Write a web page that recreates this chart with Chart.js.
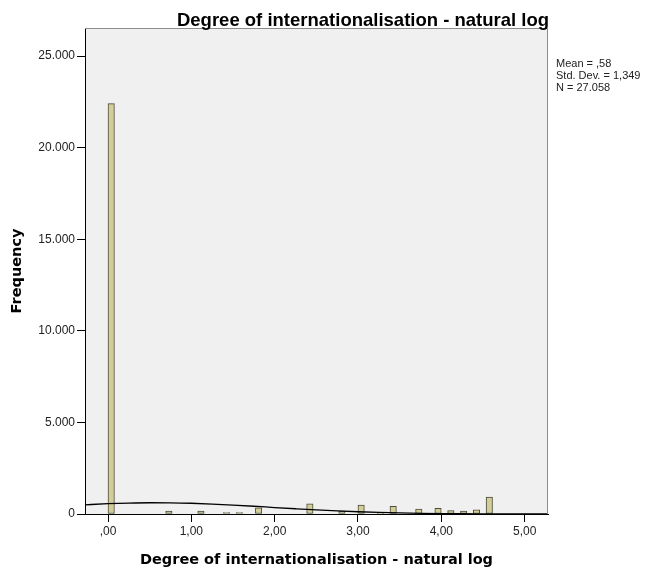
<!DOCTYPE html>
<html><head><meta charset="utf-8">
<script src="https://cdn.jsdelivr.net/npm/chart.js@4.4.0/dist/chart.umd.min.js"></script>
<style>html,body{margin:0;padding:0;background:#fff}#wrap{width:657px;height:575px;position:relative}canvas{display:block}</style>
</head><body><div id="wrap"><canvas id="c" width="657" height="575" style="width:657px;height:575px"></canvas></div>
<script>
const chartTitle = 'Degree of internationalisation - natural log';
const xTitle = 'Degree of internationalisation - natural log';
const yTitle = 'Frequency';
const binWidth = 0.0769;
const binTotal = 60;
const barBins = [0, 9, 14, 18, 20, 23, 31, 36, 39, 42, 44, 48, 51, 53, 55, 57, 59];
const barCounts = [22400, 160, 160, 80, 80, 330, 550, 160, 490, 60, 420, 270, 310, 180, 160, 230, 930];
const curveX = [-0.3, 0, 0.25, 0.5, 0.75, 1, 1.25, 1.5, 1.75, 2, 2.25, 2.5, 2.75, 3, 3.25, 3.5, 3.75, 4, 4.25, 4.5, 4.75, 5, 5.3];
const curveY = [497, 561, 597, 614, 610, 586, 544, 487, 422, 353, 286, 223, 169, 123, 87, 59, 39, 25, 15, 9, 5, 3, 1];
const xTicks = [0, 1, 2, 3, 4, 5];
const xTickLabels = [',00', '1,00', '2,00', '3,00', '4,00', '5,00'];
const yTicks = [0, 5000, 10000, 15000, 20000, 25000];
const yTickLabels = ['0', '5.000', '10.000', '15.000', '20.000', '25.000'];
const statsLines = ['Mean = ,58', 'Std. Dev. = 1,349', 'N = 27.058'];
const xRange = [-0.276, 5.28];
const yRange = [0, 26530];

const barData = [];
for (let k = 0; k < binTotal; k++) {
  const idx = barBins.indexOf(k);
  barData.push({x: (k + 0.5) * binWidth, y: idx >= 0 ? barCounts[idx] : null});
}
const curveData = curveX.map((x, i) => ({x: x, y: curveY[i]}));

const decor = {
  id: 'decor',
  beforeDraw(chart) {
    const {ctx, chartArea: a} = chart;
    ctx.save();
    ctx.fillStyle = '#ffffff';
    ctx.fillRect(0, 0, chart.width, chart.height);
    ctx.fillStyle = '#f0f0f0';
    ctx.fillRect(a.left, a.top, a.right - a.left, a.bottom - a.top);
    ctx.restore();
  },
  afterDraw(chart) {
    const {ctx, chartArea: a} = chart;
    ctx.save();
    ctx.strokeStyle = '#8c8c8c';
    ctx.lineWidth = 1;
    ctx.beginPath();
    ctx.moveTo(a.left, a.top + 0.5);
    ctx.lineTo(a.right - 0.5, a.top + 0.5);
    ctx.lineTo(a.right - 0.5, a.bottom);
    ctx.stroke();
    ctx.fillStyle = '#000';
    ctx.font = 'bold 18.5px "Liberation Sans", Arial, sans-serif';
    ctx.textAlign = 'center';
    ctx.textBaseline = 'alphabetic';
    ctx.fillText(chartTitle, 363, 26);
    ctx.font = '11px "Liberation Sans", Arial, sans-serif';
    ctx.textAlign = 'left';
    ctx.fillStyle = '#222';
    statsLines.forEach((s, i) => ctx.fillText(s, 556, 67 + i * 12));
    ctx.restore();
  }
};

new Chart(document.getElementById('c'), {
  type: 'bar',
  data: {
    datasets: [
      {
        type: 'line', data: curveData, borderColor: '#000', borderWidth: 1.3,
        pointRadius: 0, fill: false, cubicInterpolationMode: 'monotone', order: 0
      },
      {
        type: 'bar', data: barData, backgroundColor: '#d3ce97', borderColor: '#4a4a3c',
        borderWidth: 1, borderSkipped: false, barPercentage: 1, categoryPercentage: 1, order: 1
      }
    ]
  },
  options: {
    responsive: false,
    maintainAspectRatio: false,
    animation: false,
    devicePixelRatio: 1,
    layout: {padding: {left: 0, right: 109, top: 28, bottom: 0}},
    plugins: {legend: {display: false}, tooltip: {enabled: false}, title: {display: false}},
    scales: {
      x: {
        type: 'linear', min: xRange[0], max: xRange[1], offset: false,
        afterBuildTicks: s => { s.ticks = xTicks.map(v => ({value: v})); },
        afterFit: s => { s.height = 61; },
        grid: {offset: false, drawOnChartArea: false, drawTicks: true, tickLength: 8, tickColor: '#000'},
        border: {display: true, color: '#000', width: 1},
        ticks: {
          autoSkip: false, maxRotation: 0, padding: 2, color: '#222',
          font: {family: '"Liberation Sans", Arial, sans-serif', size: 12},
          callback: v => { const i = xTicks.indexOf(v); return i >= 0 ? xTickLabels[i] : ''; }
        },
        title: {
          display: true, text: xTitle, color: '#000',
          font: {family: '"DejaVu Sans", sans-serif', size: 14.5, weight: 'bold', lineHeight: 1},
          padding: {top: 0, bottom: 8}
        }
      },
      y: {
        type: 'linear', min: yRange[0], max: yRange[1],
        afterBuildTicks: s => { s.ticks = yTicks.map(v => ({value: v})); },
        afterFit: s => { s.width = 85; },
        grid: {drawOnChartArea: false, drawTicks: true, tickLength: 8, tickColor: '#000'},
        border: {display: true, color: '#000', width: 1},
        ticks: {
          autoSkip: false, padding: 2, color: '#222',
          font: {family: '"Liberation Sans", Arial, sans-serif', size: 12},
          callback: v => { const i = yTicks.indexOf(v); return i >= 0 ? yTickLabels[i] : ''; }
        },
        title: {
          display: true, text: yTitle, color: '#000',
          font: {family: '"DejaVu Sans", sans-serif', size: 14.5, weight: 'bold', lineHeight: 1},
          padding: {top: 10, bottom: 0}
        }
      }
    }
  },
  plugins: [decor]
});
</script>
</body></html>
